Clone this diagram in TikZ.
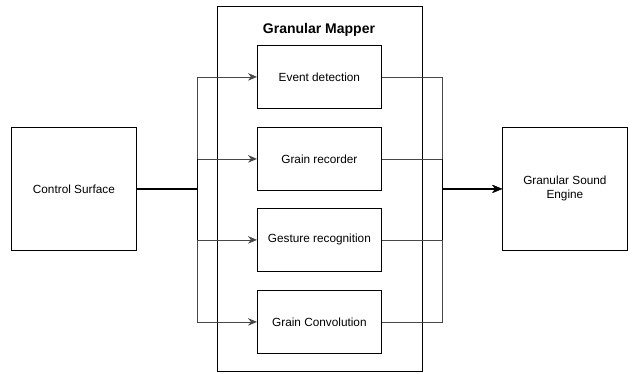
\documentclass[tikz,border=0pt]{standalone}
\usepackage{fontspec}
\setmainfont{Liberation Sans}
\usetikzlibrary{arrows.meta}
\begin{document}
\begin{tikzpicture}[x=1pt,y=-1pt,
  box/.style={draw, line width=0.8pt, fill=white, inner sep=0pt, font=\fontsize{11.8}{14}\selectfont, align=center},
  conn/.style={line width=0.8pt, draw=black!72},
  arr/.style={conn, -{Stealth[length=9pt,width=7.5pt]}},
  trunk/.style={line width=1.6pt, draw=black}]
\useasboundingbox (0,0) rectangle (632,373);
% mapper frame
\node[draw, line width=0.8pt, minimum width=205pt, minimum height=365pt, anchor=north west, inner sep=0pt] (map) at (217,6) {};
\node[font=\bfseries\fontsize{14}{16}\selectfont] (maplabel) at (319,30) {Granular Mapper};
% outer boxes
\node[box, minimum width=125pt, minimum height=123pt, anchor=north west] (cs) at (11,127) {Control Surface};
\node[box, minimum width=125pt, minimum height=123pt, anchor=north west] (gse) at (502,127) {Granular Sound\\Engine};
% inner boxes
\node[box, minimum width=124pt, minimum height=63pt, anchor=north west] (ed) at (257,45) {Event detection};
\node[box, minimum width=124pt, minimum height=63pt, anchor=north west] (gr) at (257,127) {Grain recorder};
\node[box, minimum width=124pt, minimum height=63pt, anchor=north west] (gre) at (257,208) {Gesture recognition};
\node[box, minimum width=124pt, minimum height=63pt, anchor=north west] (gc) at (257,290) {Grain Convolution};
% bus coordinates
\coordinate (lb) at (197,0);
\coordinate (rb) at (442,0);
% left connectors
\foreach \t in {ed,gr,gre,gc}{
  \draw[arr] (cs.east) -- (lb |- cs.east) -- (lb |- \t.west) -- (\t.west);
}
\draw[trunk] (cs.east) -- (lb |- cs.east);
\draw[line width=0.8pt] (lb |- gr.west) -- (lb |- gre.west);
% right connectors
\foreach \t in {ed,gr,gre,gc}{
  \draw[arr] (\t.east) -- (rb |- \t.east) -- (rb |- gse.west) -- (gse.west);
}
\draw[line width=0.8pt] (rb |- gr.east) -- (rb |- gre.east);
\draw[trunk, -{Stealth[length=10pt,width=8pt]}] (rb |- gse.west) -- (gse.west);
\end{tikzpicture}
\end{document}
